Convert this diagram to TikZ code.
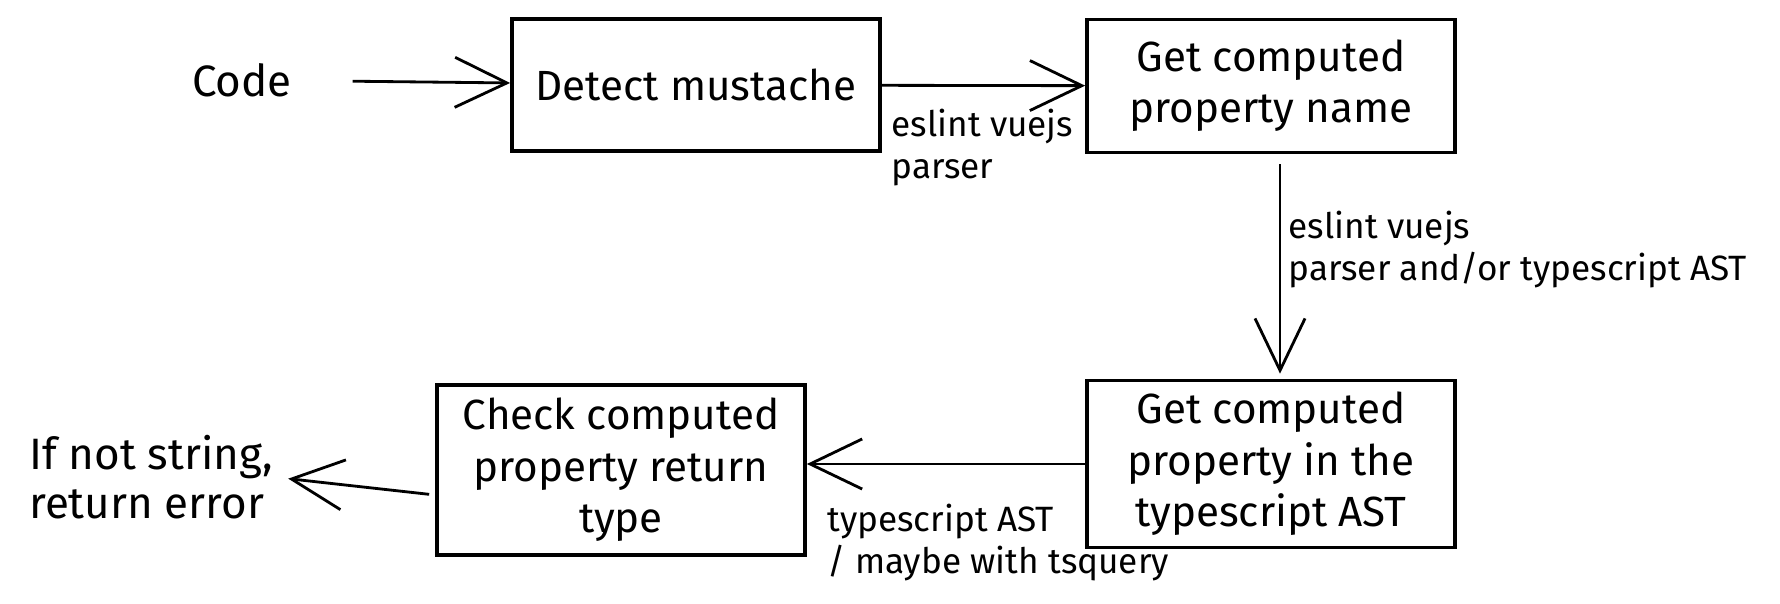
\documentclass[tikz,border=0pt]{standalone}
\usepackage{fontspec}
\setmainfont{Fira Sans}
\usetikzlibrary{positioning,arrows.meta}
\tikzset{
  caja/.style={rectangle, draw=black, line width=1pt, align=center,
    minimum width=3.68cm, inner sep=0pt, font=\fontsize{12}{14.6}\selectfont},
  texto/.style={align=left, inner sep=0pt, font=\fontsize{12.5}{14}\selectfont},
  flecha/.style={-{Straight Barb[length=5.2mm, width=5mm]}, line width=0.8pt},
  etq/.style={align=left, inner sep=0pt, font=\fontsize{10}{12}\selectfont},
}
\begin{document}
\begin{tikzpicture}[x=0.01cm, y=-0.01cm]
  \useasboundingbox (0,0) rectangle (1780,604);
  \node[texto] (code) at (242,80) {Code};
  \node[caja, minimum height=1.32cm] (b1) at (696,85) {Detect mustache};
  \node[caja, minimum height=1.33cm] (b2) at (1271,86) {Get computed\\property name};
  \node[caja, minimum height=1.67cm] (b3) at (1271,464) {Get computed\\property in the\\typescript AST};
  \node[caja, minimum height=1.70cm] (b4) at (621,470) {Check computed\\property return\\type};
  \node[texto] (iferr) at (151,477) {If not string,\\return error};
  % etiquetas
  \node[etq, below right=2.3mm and 0.9mm of b1.east] (l1) {eslint vuejs\\parser};
  \node[etq, below right=5.6mm and 1.7mm of b2.south] (l2) {eslint vuejs\\parser and/or typescript AST};
  \node[etq, below right=3.3mm and 2mm of b4.east] (l3) {typescript AST\\/ maybe with tsquery};
  \draw[flecha, shorten <=6mm] (code) -- (b1);
  \draw[flecha] (b1) -- (b2);
  \draw[flecha, shorten <=1mm, shorten >=0.5mm] ([xshift=0.9mm]b2.south) -- ([xshift=0.9mm]b3.north);
  \draw[flecha] (b3.west) -- (b4.east |- b3.west);
  \draw[flecha, shorten <=0.6mm, shorten >=1.5mm] ([yshift=-2.5mm]b4.west) -- (iferr.east);
\end{tikzpicture}
\end{document}
